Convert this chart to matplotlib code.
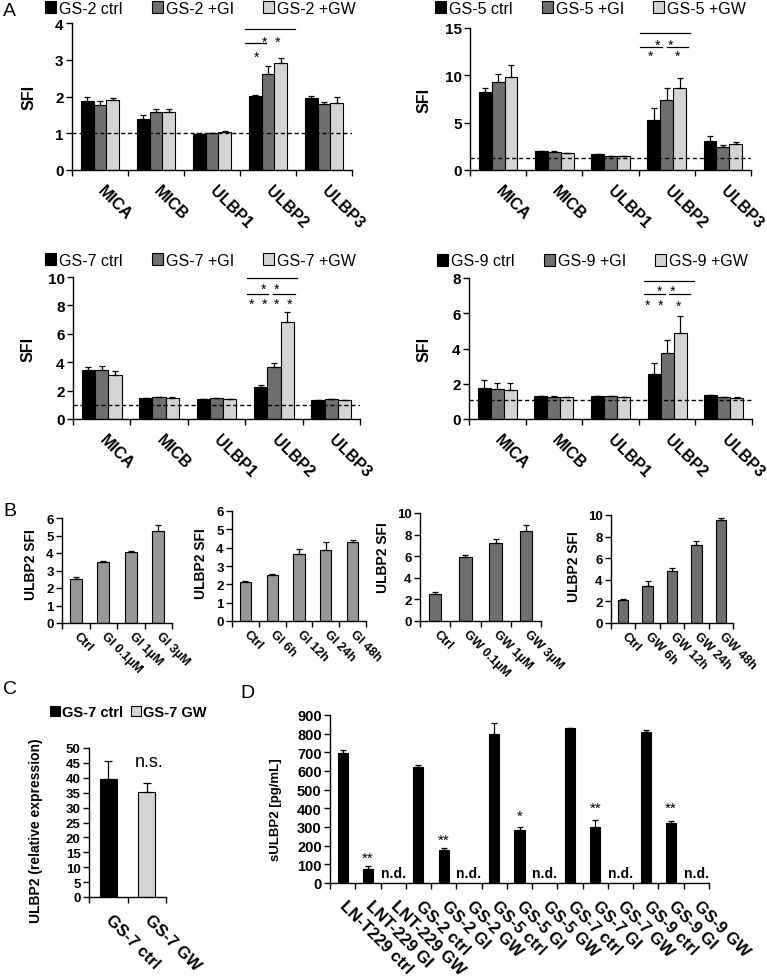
import numpy as np
import matplotlib
matplotlib.use('Agg')
import matplotlib.pyplot as plt

plt.rcParams['font.family'] = ['Liberation Sans', 'DejaVu Sans']

W, H = 767, 978

# ---------------- panel A data ----------------
ligands = ['MICA', 'MICB', 'ULBP1', 'ULBP2', 'ULBP3']
treat_colors = ['#000000', '#6f6f6f', '#d4d4d4']

gs2_labels = ['GS-2 ctrl', 'GS-2 +GI', 'GS-2 +GW']
gs2_mean = [[1.88, 1.40, 0.99, 2.02, 1.95],
            [1.77, 1.58, 1.00, 2.60, 1.79],
            [1.90, 1.57, 1.03, 2.90, 1.81]]
gs2_err = [[0.11, 0.10, 0.01, 0.02, 0.07],
           [0.12, 0.07, 0.01, 0.22, 0.07],
           [0.05, 0.09, 0.03, 0.16, 0.18]]

gs5_labels = ['GS-5 ctrl', 'GS-5 +GI', 'GS-5 +GW']
gs5_mean = [[8.20, 2.00, 1.66, 5.30, 3.08],
            [9.34, 1.95, 1.45, 7.43, 2.44],
            [9.87, 1.80, 1.45, 8.63, 2.72]]
gs5_err = [[0.43, 0.05, 0.04, 1.20, 0.49],
           [0.76, 0.04, 0.03, 1.24, 0.25],
           [1.27, 0.04, 0.03, 1.13, 0.25]]

gs7_labels = ['GS-7 ctrl', 'GS-7 +GI', 'GS-7 +GW']
gs7_mean = [[3.43, 1.46, 1.39, 2.23, 1.31],
            [3.43, 1.53, 1.48, 3.69, 1.38],
            [3.08, 1.48, 1.41, 6.85, 1.34]]
gs7_err = [[0.23, 0.05, 0.03, 0.19, 0.03],
           [0.33, 0.05, 0.03, 0.25, 0.04],
           [0.28, 0.06, 0.03, 0.68, 0.03]]

gs9_labels = ['GS-9 ctrl', 'GS-9 +GI', 'GS-9 +GW']
gs9_mean = [[1.77, 1.30, 1.30, 2.58, 1.35],
            [1.68, 1.26, 1.30, 3.75, 1.22],
            [1.64, 1.22, 1.22, 4.89, 1.20]]
gs9_err = [[0.43, 0.03, 0.03, 0.57, 0.04],
           [0.38, 0.03, 0.03, 0.75, 0.03],
           [0.38, 0.03, 0.03, 0.94, 0.03]]

# significance brackets: (x0, x1, y) and stars: (x, y, text)
gs2_lines = [(2.59, 3.48, 3.83), (2.59, 2.96, 3.45)]
gs2_stars = [(3.05, 3.59, '*  *'), (2.79, 3.18, '*')]
gs5_lines = [(2.52, 3.41, 14.47), (2.52, 2.91, 12.95), (3.00, 3.38, 12.95)]
gs5_stars = [(2.96, 13.6, '*  *'), (2.71, 12.45, '*'), (3.19, 12.45, '*')]
gs7_lines = [(2.53, 3.40, 9.93), (2.53, 2.90, 8.83), (2.99, 3.37, 8.83)]
gs7_stars = [(2.93, 9.46, '*  *'), (2.72, 8.36, '*  *'), (3.16, 8.36, '*  *')]
gs9_lines = [(2.59, 3.47, 7.85), (2.59, 2.97, 7.09), (3.03, 3.41, 7.09)]
gs9_stars = [(2.98, 7.47, '*  *'), (2.78, 6.68, '*  *'), (3.21, 6.68, '*')]

# ---------------- panel B data ----------------
b1_cats = ['Ctrl', 'GI 0.1µM', 'GI 1µM', 'GI 3µM']
b1_vals = [2.52, 3.48, 4.07, 5.27]
b1_err = [0.10, 0.06, 0.03, 0.32]
b2_cats = ['Ctrl', 'GI 6h', 'GI 12h', 'GI 24h', 'GI 48h']
b2_vals = [2.13, 2.49, 3.67, 3.90, 4.31]
b2_err = [0.05, 0.10, 0.27, 0.42, 0.12]
b3_cats = ['Ctrl', 'GW 0.1µM', 'GW 1µM', 'GW 3µM']
b3_vals = [2.53, 5.95, 7.25, 8.30]
b3_err = [0.14, 0.14, 0.35, 0.62]
b4_cats = ['Ctrl', 'GW 6h', 'GW 12h', 'GW 24h', 'GW 48h']
b4_vals = [2.16, 3.45, 4.85, 7.25, 9.57]
b4_err = [0.03, 0.47, 0.22, 0.32, 0.15]

# ---------------- panel C data ----------------
c_cats = ['GS-7 ctrl', 'GS-7 GW']
c_vals = [39.5, 35.2]
c_err = [6.2, 2.9]

# ---------------- panel D data ----------------
d_cats = ['LN-T229 ctrl', 'LNT-229 GI', 'LNT-229 GW', 'GS-2 ctrl', 'GS-2 GI', 'GS-2 GW',
          'GS-5 ctrl', 'GS-5 GI', 'GS-5 GW', 'GS-7 ctrl', 'GS-7 GI', 'GS-7 GW',
          'GS-9 ctrl', 'GS-9 GI', 'GS-9 GW']
d_vals = [698, 73, np.nan, 623, 175, np.nan, 796, 282, np.nan, 830, 300, np.nan, 811, 320, np.nan]
d_err = [16, 18, 0, 11, 14, 0, 60, 20, 0, 3, 39, 0, 10, 12, 0]
d_sig = {1: ('**', 163), 4: ('**', 260), 7: ('*', 386), 10: ('**', 430), 13: ('**', 430)}


fig = plt.figure(figsize=(W / 100, H / 100), dpi=100)


def add_ax(l, t, r, b):
    return fig.add_axes([l / W, 1 - b / H, (r - l) / W, (b - t) / H])


def style(ax, cats, ymax, ystep, fs, xfs, pad):
    for s in ['top', 'right']:
        ax.spines[s].set_visible(False)
    for s in ['left', 'bottom']:
        ax.spines[s].set_linewidth(1.0)
    n = len(cats)
    ax.set_xlim(-0.5, n - 0.5)
    ax.set_ylim(0, ymax)
    ax.set_yticks(np.arange(0, ymax + ystep / 2, ystep))
    ax.tick_params(axis='y', direction='out', length=4, width=1, labelsize=fs, pad=2)
    plt.setp(ax.get_yticklabels(), fontweight='bold')
    ax.set_xticks(np.arange(n + 1) - 0.5)
    ax.set_xticklabels([])
    ax.tick_params(axis='x', which='major', direction='out', length=4, width=1)
    ax.set_xticks(np.arange(n), minor=True)
    ax.set_xticklabels(cats, minor=True, rotation=-45, ha='left', va='center',
                       rotation_mode='anchor', fontweight='bold', fontsize=xfs)
    ax.tick_params(axis='x', which='minor', length=0, pad=pad)


def ylab(ax, text, fs, xpx, ypx):
    # xpx is the right edge of the rotated label
    ax.set_ylabel(text, fontsize=fs, fontweight='bold')
    ax.yaxis.set_label_coords(xpx / W, 1 - ypx / H, transform=fig.transFigure)


def errbars(ax, x, vals, err, cap):
    vals = np.asarray(vals, dtype=float)
    err = np.asarray(err, dtype=float)
    ok = ~np.isnan(vals)
    x = np.asarray(x)[ok]
    ax.errorbar(x, vals[ok], yerr=[np.zeros(ok.sum()), err[ok]], fmt='none',
                ecolor='black', elinewidth=0.9, capsize=cap, capthick=0.9, zorder=3)


def stars_at(ax, x, y, text, fs):
    ax.annotate(text, (x, y), xytext=(0, -0.58 * fs), textcoords='offset points',
                ha='center', va='baseline', fontsize=fs)


def panel_a(box, labels, mean, err, ymax, ystep, cutoff, lines, stars, leg_px, lab_x):
    ax = add_ax(*box)
    x = np.arange(len(ligands))
    w = 0.23
    for i in range(3):
        xi = x + (i - 1) * w
        ax.bar(xi, mean[i], w, color=treat_colors[i], edgecolor='black',
               linewidth=0.8, label=labels[i], zorder=2)
        errbars(ax, xi, mean[i], err[i], 2.5)
    ax.axhline(cutoff, color='black', linestyle=(0, (3, 2)), linewidth=1.0, zorder=4)
    for x0, x1, y in lines:
        ax.plot([x0, x1], [y, y], color='black', linewidth=0.9, clip_on=False)
    for xs, ys, t in stars:
        stars_at(ax, xs, ys, t, 10)
    style(ax, ligands, ymax, ystep, 11, 11.5, 13)
    ylab(ax, 'SFI', 11.5, lab_x, (box[1] + box[3]) / 2)
    ax.legend(loc='center left', bbox_to_anchor=(leg_px[0] / W, 1 - leg_px[1] / H),
              bbox_transform=fig.transFigure, ncol=3, frameon=False, fontsize=11.5,
              handlelength=0.7, handleheight=0.7, handletextpad=0.2,
              columnspacing=1.8, borderpad=0, borderaxespad=0)
    return ax


panel_a((72, 24, 352, 171), gs2_labels, gs2_mean, gs2_err, 4, 1, 1.0,
        gs2_lines, gs2_stars, (45, 9), 37)
panel_a((470, 29, 751, 171), gs5_labels, gs5_mean, gs5_err, 15, 5, 1.25,
        gs5_lines, gs5_stars, (435, 9), 432)
panel_a((73, 278, 360, 420), gs7_labels, gs7_mean, gs7_err, 10, 2, 1.0,
        gs7_lines, gs7_stars, (45, 261), 36)
panel_a((469, 279, 752, 420), gs9_labels, gs9_mean, gs9_err, 8, 2, 1.07,
        gs9_lines, gs9_stars, (437, 262), 432)


def panel_b(box, cats, vals, err, ymax, ystep, color, lab_xy):
    ax = add_ax(*box)
    x = np.arange(len(cats))
    ax.bar(x, vals, 0.42, color=color, edgecolor='black', linewidth=0.8, zorder=2)
    errbars(ax, x, vals, err, 2.5)
    style(ax, cats, ymax, ystep, 9.5, 9, 8)
    ylab(ax, 'ULBP2 SFI', 10, lab_xy[0], lab_xy[1])
    return ax


panel_b((62, 519, 172, 624), b1_cats, b1_vals, b1_err, 6, 1, '#979797', (38, 565))
panel_b((232, 512, 366, 622), b2_cats, b2_vals, b2_err, 6, 1, '#979797', (208, 564))
panel_b((420, 514, 541, 622), b3_cats, b3_vals, b3_err, 10, 2, '#6f6f6f', (390, 558))
panel_b((611, 516, 733, 624), b4_cats, b4_vals, b4_err, 10, 2, '#6f6f6f', (581, 567))

# panel C
axc = add_ax(89, 749, 166, 898)
xc = np.arange(len(c_cats))
c_colors = ['#000000', '#d4d4d4']
bars_c = axc.bar(xc, c_vals, 0.43, color=c_colors, edgecolor='black', linewidth=0.8, zorder=2)
errbars(axc, xc, c_vals, c_err, 3)
style(axc, c_cats, 50, 5, 9.5, 12, 14)
ylab(axc, 'ULBP2 (relative expression)', 10, 43, 831)
axc.text(1.05, 45.5, 'n.s.', ha='center', va='center', fontsize=13)
axc.legend(bars_c, c_cats, loc='center left', bbox_to_anchor=(50 / W, 1 - 713 / H),
           bbox_transform=fig.transFigure, ncol=2, frameon=False,
           prop={'size': 10.5, 'weight': 'bold'}, handlelength=0.7, handleheight=0.7,
           handletextpad=0.15, columnspacing=0.5, borderpad=0, borderaxespad=0)

# panel D
axd = add_ax(330, 716, 709, 884)
xd = np.arange(len(d_cats))
axd.bar(xd, d_vals, 0.4, color='black', edgecolor='black', linewidth=0.8, zorder=2)
errbars(axd, xd, d_vals, d_err, 2.5)
for i, v in enumerate(d_vals):
    if np.isnan(v):
        axd.text(i, 55, 'n.d.', ha='center', va='center', fontsize=10, fontweight='bold')
for i, (t, y) in d_sig.items():
    stars_at(axd, i, y, t, 11)
style(axd, d_cats, 900, 100, 10.5, 12, 14)
ylab(axd, 'sULBP2 [pg/mL]', 9.5, 282, 810)

# panel letters
for letter, lx, ly in [('A', 3, 11), ('B', 3, 511), ('C', 3, 689), ('D', 240, 694)]:
    fig.text(lx / W, 1 - ly / H, letter, fontsize=14, ha='left', va='center')

fig.savefig('out.png', dpi=100)
